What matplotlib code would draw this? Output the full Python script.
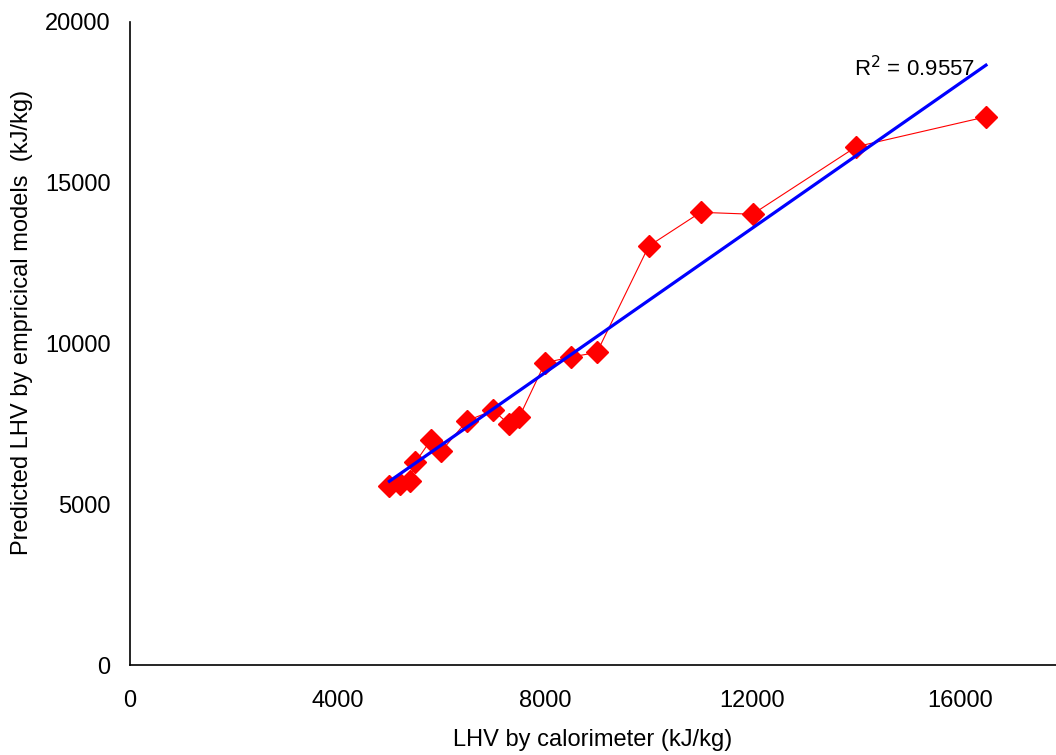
import matplotlib
matplotlib.use("Agg")
import matplotlib.pyplot as plt
import numpy as np

plt.rcParams['font.family'] = ['Liberation Sans', 'DejaVu Sans']

# LHV measured by calorimeter vs predicted by empirical models (kJ/kg)
lhv_calorimeter = [5000, 5200, 5400, 5500, 5800, 6000, 6500, 7000, 7300, 7500,
                   8000, 8500, 9000, 10000, 11000, 12000, 14000, 16500]
lhv_predicted = [5570, 5640, 5730, 6300, 7000, 6650, 7600, 7920, 7500, 7700,
                 9400, 9580, 9720, 13030, 14080, 14020, 16120, 17050]
r2_text = "R$^2$ = 0.9557"

x = np.array(lhv_calorimeter)
y = np.array(lhv_predicted)

fig = plt.figure(figsize=(10.56, 7.55), dpi=100)
ax = fig.add_axes([0.1231, 0.1192, 0.8769, 0.8517])

ax.plot(x, y, color='red', linewidth=0.8, marker='D', markersize=11.5,
        markerfacecolor='red', markeredgecolor='red', zorder=3)

# linear trendline
slope, icpt = np.polyfit(x, y, 1)
xfit = np.array([x.min(), x.max()])
ax.plot(xfit, slope * xfit + icpt, color='#0000ff', linewidth=2.3, zorder=4)

ax.text(13950, 18560, r2_text, fontsize=16, va='center', ha='left')

ax.set_xlim(0, 17850)
ax.set_ylim(0, 20000)
ax.set_xticks([0, 4000, 8000, 12000, 16000])
ax.set_yticks([0, 5000, 10000, 15000, 20000])
ax.tick_params(length=0, labelsize=17)
ax.tick_params(axis='x', pad=18)
ax.tick_params(axis='y', pad=14)

for s in ['top', 'right']:
    ax.spines[s].set_visible(False)
for s in ['left', 'bottom']:
    ax.spines[s].set_linewidth(1.2)

ax.set_xlabel('LHV by calorimeter (kJ/kg)', fontsize=17, labelpad=12)
ax.set_ylabel('Predicted LHV by empricical models  (kJ/kg)', fontsize=17)
ax.yaxis.set_label_coords(-0.105, 0.533)

fig.savefig('out.png', dpi=100)
